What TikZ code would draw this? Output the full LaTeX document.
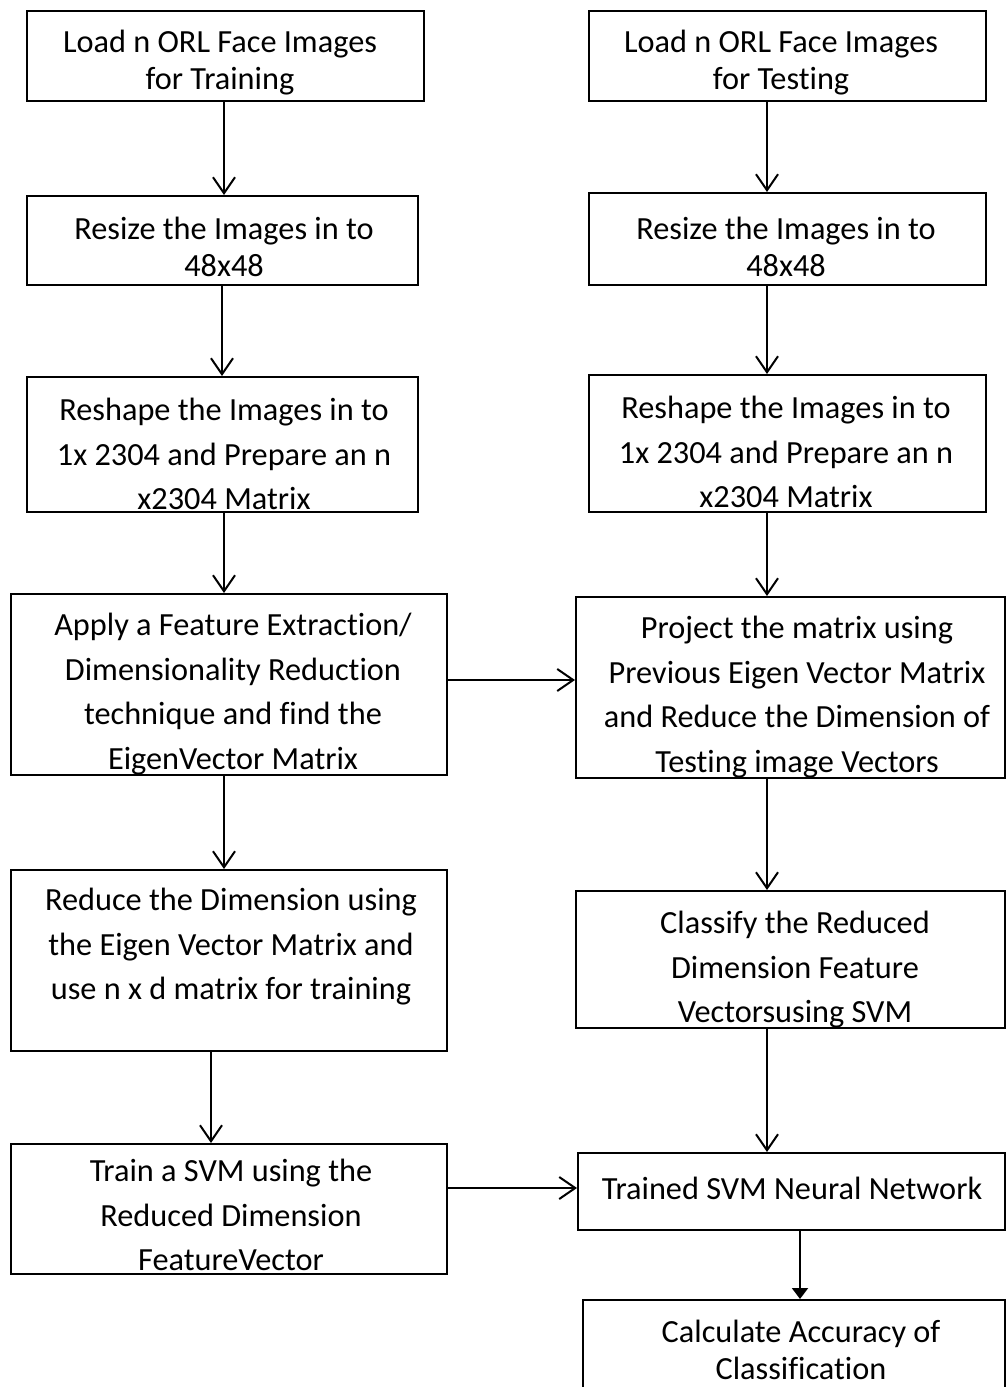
\documentclass[tikz,border=0pt]{standalone}
\usepackage{fontspec}
\setmainfont{Carlito}[Ligatures={NoCommon}]
\usetikzlibrary{arrows.meta}
\begin{document}
\begin{tikzpicture}[x=1pt,y=-1pt,
  box/.style={draw, line width=2pt, inner sep=0pt, rectangle},
  txt/.style={align=center, inner sep=0pt, font=\fontsize{32.3}{37}\selectfont},
  txtw/.style={align=center, inner sep=0pt, font=\fontsize{32.3}{44.5}\selectfont},
  flow/.style={line width=2pt, -{Straight Barb[length=16pt,width=22pt,line width=2pt]}},
  flowfill/.style={line width=2pt, -{Triangle[length=11pt,width=16pt]}}]
\useasboundingbox (0,0) rectangle (1006,1387);
\clip (0,0) rectangle (1006,1387);

% training column
\node[box, minimum width=397, minimum height=90]  (L1) at (225.5,56)   {};
\node[box, minimum width=391, minimum height=89]  (L2) at (222.5,240.5) {};
\node[box, minimum width=391, minimum height=135] (L3) at (222.5,444.5) {};
\node[box, minimum width=436, minimum height=181] (L4) at (229,684.5)  {};
\node[box, minimum width=436, minimum height=181] (L5) at (229,960.5)  {};
\node[box, minimum width=436, minimum height=130] (L6) at (229,1209)   {};

% testing column
\node[box, minimum width=397, minimum height=90]  (R1) at (787.5,56)   {};
\node[box, minimum width=397, minimum height=92]  (R2) at (787.5,239)  {};
\node[box, minimum width=397, minimum height=137] (R3) at (787.5,443.5) {};
\node[box, minimum width=429, minimum height=181] (R4) at (790.5,687.5) {};
\node[box, minimum width=429, minimum height=137] (R5) at (790.5,959.5) {};
\node[box, minimum width=427, minimum height=77]  (R6) at (791.5,1191.5) {};
\node[box, minimum width=422, minimum height=100] (R7) at (794,1350)   {};

% box texts
\node[txt]  (L1t) at (220,63)   {Load n ORL Face Images\\for Training};
\node[txt]  (L2t) at (224,247)  {Resize the Images in to\\48x48};
\node[txtw] (L3t) at (224,454)  {Reshape the Images in to\\1x 2304 and Prepare an n\\x2304 Matrix};
\node[txtw] (L4t) at (233,694)  {Apply a Feature Extraction/\\Dimensionality Reduction\\technique and find the\\EigenVector Matrix};
\node[txtw] (L5t) at (231,947)  {Reduce the Dimension using\\the Eigen Vector Matrix and\\use n x d matrix for training};
\node[txtw] (L6t) at (231,1215) {Train a SVM using the\\Reduced Dimension\\FeatureVector};

\node[txt]  (R1t) at (781,63)   {Load n ORL Face Images\\for Testing};
\node[txt]  (R2t) at (786,247)  {Resize the Images in to\\48x48};
\node[txtw] (R3t) at (786,452)  {Reshape the Images in to\\1x 2304 and Prepare an n\\x2304 Matrix};
\node[txtw] (R4t) at (797,697)  {Project the matrix using\\Previous Eigen Vector Matrix\\and Reduce the Dimension of\\Testing image Vectors};
\node[txtw] (R5t) at (795,970)  {Classify the Reduced\\Dimension Feature\\Vectorsusing SVM};
\node[txt]  (R6t) at (792,1188) {Trained SVM Neural Network};
\node[txt]  (R7t) at (801,1350) {Calculate Accuracy of\\Classification};

% connector guides
\coordinate (xa) at (224,0);
\coordinate (xb) at (222,0);
\coordinate (xc) at (211,0);
\coordinate (xr) at (767,0);
\coordinate (xs) at (800,0);
\coordinate (ya) at (0,680);
\coordinate (yb) at (0,1188);

% training flow
\draw[flow] (L1.south -| xa) -- (L2.north -| xa);
\draw[flow] (L2.south -| xb) -- (L3.north -| xb);
\draw[flow] (L3.south -| xa) -- (L4.north -| xa);
\draw[flow] (L4.south -| xa) -- (L5.north -| xa);
\draw[flow] (L5.south -| xc) -- (L6.north -| xc);

% testing flow
\draw[flow] (R1.south -| xr) -- (R2.north -| xr);
\draw[flow] (R2.south -| xr) -- (R3.north -| xr);
\draw[flow] (R3.south -| xr) -- (R4.north -| xr);
\draw[flow] (R4.south -| xr) -- (R5.north -| xr);
\draw[flow] (R5.south -| xr) -- (R6.north -| xr);
\draw[flowfill] (R6.south -| xs) -- (R7.north -| xs);

% links between the columns
\draw[flow] (L4.east |- ya) -- (R4.west |- ya);
\draw[flow] (L6.east |- yb) -- (R6.west |- yb);
\end{tikzpicture}
\end{document}
